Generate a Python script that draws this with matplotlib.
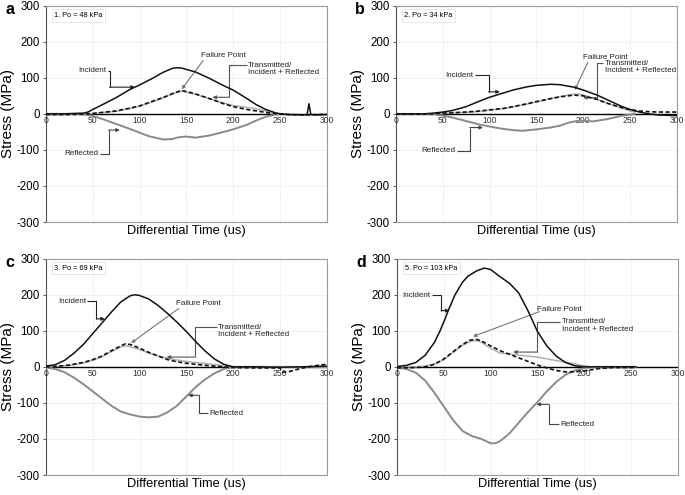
"""
Stress waves (incident / reflected / transmitted) for 4 tests
"""

import matplotlib
matplotlib.use("Agg")
import matplotlib.pyplot as plt

plt.rcParams.update({
    "font.family": ["Liberation Sans", "DejaVu Sans"],
    "axes.linewidth": 0.8,
})

# ── data ─────────────────────────────────────────────────────
# panel a : 1. Po = 48 kPa
a_inc_t = [0, 20, 40, 45, 50, 60, 75, 90, 100, 115, 125, 135, 140, 145, 160, 175, 190, 200,
           215, 225, 235, 245, 250, 260, 275, 279, 281, 283, 290, 300]
a_inc_v = [0, 0, 2, 5, 12, 25, 45, 68, 80, 100, 115, 126, 128, 127, 116, 98, 78, 66,
           42, 25, 12, 3, 0, -2, -3, -2, 28, -2, -3, -2]
a_tra_t = [0, 20, 40, 50, 60, 75, 90, 100, 115, 125, 135, 145, 150, 160, 175, 190, 200,
           215, 225, 240, 250, 260, 280, 300]
a_tra_v = [-2, -2, -1, 1, 4, 8, 16, 22, 36, 45, 56, 65, 62, 55, 42, 28, 20, 12, 8, 2, 0, -2, -3, -1]
a_sum_t = [0, 40, 50, 60, 75, 90, 100, 115, 125, 135, 145, 150, 160, 175, 190, 200, 215,
           225, 235, 245, 250]
a_sum_v = [-1, 0, 1, 3, 7, 15, 21, 34, 44, 55, 63, 60, 54, 42, 30, 23, 18, 14, 8, 2, 0]
a_ref_t = [0, 35, 40, 50, 60, 75, 90, 100, 110, 125, 135, 140, 145, 150, 160, 175, 190,
           200, 215, 225, 235, 245, 250]
a_ref_v = [0, 0, -1, -6, -14, -28, -42, -52, -62, -71, -70, -66, -64, -63, -66, -60, -50,
           -43, -30, -18, -8, -2, 0]

# panel b : 2. Po = 34 kPa
b_inc_t = [0, 30, 40, 50, 60, 75, 90, 100, 115, 125, 140, 150, 165, 175, 190, 200, 215,
           225, 240, 250, 260, 270, 280, 300]
b_inc_v = [0, 0, 2, 5, 9, 20, 36, 46, 58, 66, 75, 79, 82, 81, 74, 66, 52, 40, 22, 12, 5, 0, -3, -5]
b_tra_t = [0, 40, 50, 60, 75, 90, 100, 115, 125, 140, 150, 165, 175, 190, 200, 215, 225,
           240, 250, 260, 270, 280, 300]
b_tra_v = [-1, 0, 2, 3, 5, 8, 11, 15, 20, 28, 34, 42, 47, 52, 50, 40, 30, 18, 12, 8, 6, 5, 5]
b_sum_t = [0, 40, 50, 60, 75, 90, 100, 115, 125, 140, 150, 165, 175, 185, 195, 200, 215,
           225, 240, 250, 255]
b_sum_v = [0, 0, 1, 2, 4, 7, 10, 15, 19, 27, 33, 42, 48, 53, 55, 52, 40, 30, 17, 8, 5]
b_ref_t = [0, 40, 50, 60, 75, 90, 100, 115, 125, 135, 150, 165, 175, 185, 195, 200, 210,
           225, 240, 250, 255]
b_ref_v = [0, -1, -5, -10, -20, -30, -35, -42, -45, -47, -43, -38, -33, -24, -19, -19, -21,
           -15, -6, -2, 0]

# panel c : 3. Po = 69 kPa
c_inc_t = [0, 10, 20, 30, 40, 50, 60, 70, 80, 90, 95, 100, 110, 120, 130, 140, 150, 160,
           170, 180, 190, 200, 225, 250, 275, 300]
c_inc_v = [2, 6, 18, 38, 62, 92, 122, 152, 180, 197, 200, 198, 188, 170, 148, 124, 98, 70,
           44, 22, 7, 0, 0, -1, 0, 2]
c_tra_t = [0, 10, 25, 40, 50, 60, 70, 80, 85, 90, 100, 110, 120, 130, 140, 150, 160, 175,
           190, 200, 225, 250, 253, 260, 270, 280, 290, 300]
c_tra_v = [0, 1, 5, 12, 20, 30, 45, 58, 64, 62, 52, 40, 30, 20, 14, 10, 7, 3, 0, -2, -3, -3,
           -15, -13, -6, 0, 4, 7]
c_sum_t = [0, 10, 25, 40, 50, 60, 70, 80, 85, 90, 100, 110, 120, 130, 140, 150, 160, 175,
           190, 200, 225, 250, 275, 300]
c_sum_v = [0, 1, 4, 11, 18, 28, 42, 55, 58, 56, 48, 38, 30, 24, 19, 15, 12, 8, 3, 0, 0, 0, 0, 0]
c_ref_t = [0, 10, 20, 30, 40, 50, 60, 70, 80, 90, 100, 110, 120, 130, 140, 150, 160, 170,
           180, 190, 200, 250, 300]
c_ref_v = [-2, -6, -15, -30, -48, -68, -88, -108, -124, -132, -138, -140, -138, -126, -108,
           -82, -56, -35, -18, -6, 0, 0, 0]

# panel d : 5. Po = 103 kPa
d_inc_t = [0, 10, 20, 30, 40, 46, 50, 55, 62, 70, 76, 85, 93, 100, 110, 120, 130, 140, 150,
           160, 170, 180, 190, 200, 225, 255]
d_inc_v = [1, 4, 12, 32, 68, 100, 125, 158, 200, 235, 252, 266, 274, 270, 250, 232, 205, 155,
           98, 58, 30, 12, 3, 0, 0, 0]
d_tra_t = [0, 20, 30, 40, 50, 60, 70, 78, 85, 90, 100, 110, 120, 135, 150, 160, 170, 180,
           190, 200, 215, 230, 255]
d_tra_v = [-3, -2, 0, 7, 22, 42, 62, 74, 76, 72, 58, 45, 35, 20, 5, -3, -10, -14, -14, -11,
           -5, -2, -2]
d_sum_t = [0, 20, 30, 40, 50, 60, 70, 80, 85, 90, 100, 110, 125, 150, 175, 190, 200, 215, 230, 255]
d_sum_v = [0, 0, 2, 8, 20, 40, 60, 72, 73, 68, 52, 38, 34, 27, 15, 8, 3, -3, -2, -2]
d_ref_t = [0, 10, 20, 30, 40, 50, 60, 70, 80, 90, 100, 105, 110, 120, 130, 140, 150, 160,
           170, 180, 190, 200, 210, 255]
d_ref_v = [-2, -6, -16, -38, -72, -110, -148, -178, -192, -200, -212, -212, -206, -185, -155,
           -125, -98, -68, -42, -22, -10, -3, 0, 0]

TICKS_X = [0, 50, 100, 150, 200, 250, 300]
TICKS_Y = [-300, -200, -100, 0, 100, 200, 300]

CLR_INC = "#111111"
CLR_REF = "#8a8a8a"
CLR_SUM = "#b0b0b0"
CLR_TXT = "#222222"

fig = plt.figure(figsize=(6.85, 4.95), dpi=100)

# letter, Po label, axes left/bottom, annotation layout
panels = [
    dict(letter="a", po="1. Po = 48 kPa", pos=[0.067, 0.5515],
         inc=(a_inc_t, a_inc_v), tra=(a_tra_t, a_tra_v), sum=(a_sum_t, a_sum_v), ref=(a_ref_t, a_ref_v),
         inc_lbl=(35, 119, 68, 74, 95), fail=(166, 162, 168, 148, 145, 68),
         tra_lbl=(216, 125, 196, 46, 178), ref_lbl=(20, -111, 67, -45, 79)),
    dict(letter="b", po="2. Po = 34 kPa", pos=[0.578, 0.5515],
         inc=(b_inc_t, b_inc_v), tra=(b_tra_t, b_tra_v), sum=(b_sum_t, b_sum_v), ref=(b_ref_t, b_ref_v),
         inc_lbl=(53, 107, 99, 61, 111), fail=(200, 157, 205, 143, 191, 66),
         tra_lbl=(223, 130, 215, 45, 200), ref_lbl=(27, -102, 79, -38, 93)),
    dict(letter="c", po="3. Po = 69 kPa", pos=[0.067, 0.0404],
         inc=(c_inc_t, c_inc_v), tra=(c_tra_t, c_tra_v), sum=(c_sum_t, c_sum_v), ref=(c_ref_t, c_ref_v),
         inc_lbl=(13, 182, 54, 133, 63), fail=(139, 176, 142, 162, 91, 66),
         tra_lbl=(184, 100, 159, 27, 129), ref_lbl=(175, -129, 164, -79, 152)),
    dict(letter="d", po="5. Po = 103 kPa", pos=[0.5796, 0.0404],
         inc=(d_inc_t, d_inc_v), tra=(d_tra_t, d_tra_v), sum=(d_sum_t, d_sum_v), ref=(d_ref_t, d_ref_v),
         inc_lbl=(6, 199, 47, 156, 56), fail=(149, 160, 152, 153, 81, 84),
         tra_lbl=(176, 114, 150, 41, 124), ref_lbl=(174, -159, 162, -104, 149)),
]

ARROW = dict(arrowstyle="-|>", color="#333333", lw=0.8, mutation_scale=5,
             shrinkA=0, shrinkB=0)


def elbow(ax, text, tx, ty, xm, py, px, color="#333333"):
    """text at (tx,ty), line out to xm, vertical to py, then arrow to px"""
    t = ax.text(tx, ty, text, fontsize=5.8, color=CLR_TXT,
                ha="left", va="center", linespacing=1.1)
    fig.canvas.draw()
    bb = t.get_window_extent().transformed(ax.transData.inverted())
    xs = bb.x1 + 1.5 if px > tx else bb.x0 - 1.5
    ys = bb.y1 - (bb.y1 - bb.y0) * 0.22 if "\n" in text else ty
    ax.plot([xs, xm, xm], [ys, ys, py], color=color, lw=0.8, solid_capstyle="butt")
    ax.annotate("", xy=(px, py), xytext=(xm, py),
                arrowprops=dict(ARROW, color=color))


for p in panels:
    ax = fig.add_axes([p["pos"][0], p["pos"][1], 0.410, 0.437])
    ax.set_xlim(0, 300)
    ax.set_ylim(-300, 300)
    ax.set_xticks(TICKS_X)
    ax.set_yticks(TICKS_Y)
    ax.set_yticklabels([str(v) for v in TICKS_Y], fontsize=8.3)
    ax.tick_params(axis="x", length=0, labelbottom=False)
    ax.tick_params(axis="y", length=2.5, width=0.7, pad=2, colors="#555555", labelcolor="black")
    ax.grid(True, color="#d6d6d6", linestyle=(0, (1, 1.5)), linewidth=0.6)
    for s in ax.spines.values():
        s.set_color("#9a9a9a")
    ax.spines["left"].set_color("#555555")

    ax.axhline(0, color="black", lw=1.0, zorder=2)
    for x in TICKS_X:
        ax.text(x, -6, str(x), fontsize=6.2, color="#333333", ha="center", va="top")

    ax.plot(*p["ref"], color=CLR_REF, lw=1.4, zorder=3)
    ax.plot(*p["sum"], color=CLR_SUM, lw=1.1, zorder=3)
    ax.plot(*p["inc"], color=CLR_INC, lw=1.1, zorder=4)
    ax.plot(*p["tra"], color=CLR_INC, lw=1.2, linestyle=(0, (2.5, 1.5)), zorder=5)

    ax.set_ylabel("Stress (MPa)", fontsize=11, labelpad=1)
    ax.set_xlabel("Differential Time (us)", fontsize=9.3, labelpad=2)

    ax.text(0.03, 0.955, p["po"], transform=ax.transAxes, fontsize=5.3, va="center",
            bbox=dict(boxstyle="square,pad=0.35", facecolor="white", edgecolor="#dddddd", lw=0.5))

    tx, ty, xm, py, px = p["inc_lbl"]
    elbow(ax, "Incident", tx, ty, xm, py, px, color="#222222")
    tx, ty, xm, py, px = p["tra_lbl"]
    elbow(ax, "Transmitted/\nIncident + Reflected", tx, ty, xm, py, px, color="#555555")
    tx, ty, xm, py, px = p["ref_lbl"]
    elbow(ax, "Reflected", tx, ty, xm, py, px, color="#444444")

    fx, fy, sx, sy, ex, ey = p["fail"]
    ax.text(fx, fy, "Failure Point", fontsize=5.8, color=CLR_TXT, va="center")
    ax.annotate("", xy=(ex, ey), xytext=(sx, sy),
                arrowprops=dict(ARROW, color="#777777"))

    fig.text(p["pos"][0] - 0.052, p["pos"][1] + 0.43, p["letter"], fontsize=11.5,
             fontweight="bold", va="center", ha="center")

fig.savefig("out.png", dpi=100)
